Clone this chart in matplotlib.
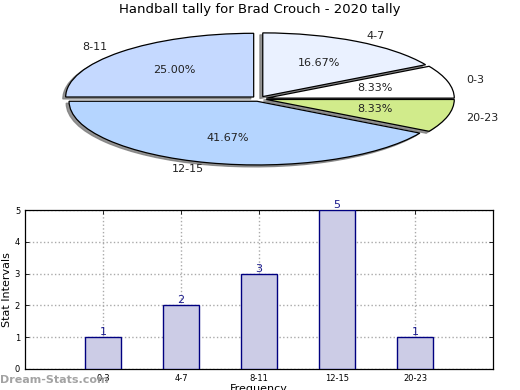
import matplotlib
matplotlib.use('Agg')
import matplotlib.pyplot as plt
import numpy as np

plt.rcParams['font.family'] = 'DejaVu Sans'

# Data
intervals = ["0-3", "4-7", "8-11", "12-15", "20-23"]
counts = [1, 2, 3, 5, 1]
pie_colors = ['#FFFFFF', '#EAF1FF', '#C5D9FF', '#B5D5FF', '#D1EB8B']
title = "Handball tally for Brad Crouch - 2020 tally"

fig = plt.figure(figsize=(5.2, 3.9), dpi=100, facecolor='white')

# Pie (squashed ellipse, every wedge slightly exploded)
W, H = 520.0, 390.0
rx, ry = 188.0, 63.7
cx, cy = 259.0, 98.8
xl, yl = 1.3, 1.2
ax1 = fig.add_axes([(cx - rx * xl) / W, (H - cy - ry * yl) / H,
                    2 * rx * xl / W, 2 * ry * yl / H])
wedges, texts, autotexts = ax1.pie(
    counts, labels=intervals, colors=pie_colors, explode=[0.04] * len(counts),
    autopct='%1.2f%%', pctdistance=0.6, labeldistance=1.1,
    shadow=dict(ox=-0.011, oy=-0.022, facecolor='#7A7A7A',
                edgecolor='#7A7A7A', alpha=0.8),
    startangle=0, wedgeprops=dict(edgecolor='black', linewidth=0.9),
    textprops=dict(fontsize=8, color='#222222'))
ax1.set_aspect('auto')
ax1.set_xlim(-xl, xl)
ax1.set_ylim(-yl, yl)
ax1.axis('off')

fig.text(0.5, 1 - 10 / H, title, ha='center', va='center', fontsize=9.5)

# Bar chart
ax2 = fig.add_axes([25 / W, 21 / H, 468 / W, 159 / H])
x = np.arange(1, len(counts) + 1)
ax2.bar(x, counts, width=0.46, color='#CCCCE6', edgecolor='#000080',
        linewidth=1, zorder=3)
for xi, c in zip(x, counts):
    ax2.text(xi, c, str(c), ha='center', va='bottom', fontsize=8,
             color='#1A1A8C', zorder=4)
ax2.set_xlim(0, 6)
ax2.set_ylim(0, 5)
ax2.set_xticks(x)
ax2.set_xticklabels(intervals, fontsize=6)
ax2.set_yticks(range(6))
ax2.tick_params(axis='y', labelsize=6)
ax2.tick_params(direction='in', top=True, right=True, length=3, width=0.6)
ax2.grid(True, linestyle=':', color='#AAAAAA', linewidth=1, zorder=0)
ax2.set_ylabel("Stat Intervals", fontsize=8, labelpad=2)
ax2.set_xlabel("Frequency", fontsize=8, labelpad=1)
for s in ax2.spines.values():
    s.set_linewidth(0.9)

fig.text(0.0, 1 - 380 / H, "Dream-Stats.com", ha='left', va='center',
         fontsize=8, color='#999999', fontweight='bold', alpha=0.9)

fig.savefig('out.png', dpi=100, facecolor='white')
